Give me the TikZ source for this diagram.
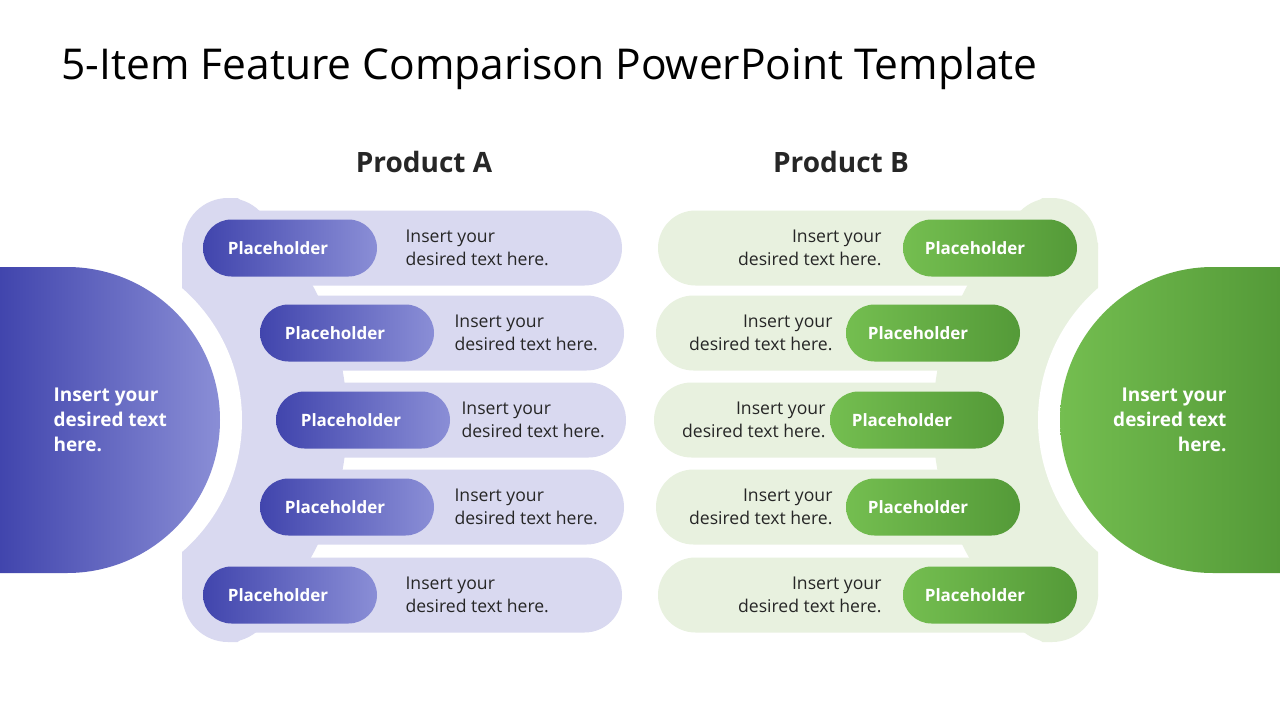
\documentclass[tikz,border=0pt]{standalone}
\usepackage{fontspec}
\setmainfont{Open Sans}
\usetikzlibrary{positioning}
\definecolor{lavA}{HTML}{D9D9F0}
\definecolor{lgrB}{HTML}{E8F1DF}
\definecolor{purD}{HTML}{4145AD}
\definecolor{purL}{HTML}{8A8ED6}
\definecolor{grnD}{HTML}{549A38}
\definecolor{grnL}{HTML}{74BE50}
\definecolor{txt}{HTML}{262626}
\tikzset{
  rowbg/.style={rounded corners=37.5pt},
  pillA/.style={rounded corners=28.5pt, shading=axis, shading angle=60, left color=purD, right color=purL},
  pillB/.style={rounded corners=28.5pt, shading=axis, shading angle=120, left color=grnL, right color=grnD},
  pilltext/.style={text=white, font=\fontsize{17}{20}\selectfont\bfseries},
  desc/.style={text=txt, align=left, font=\fontsize{17.6}{22.5}\selectfont},
  head/.style={text=txt, font=\fontsize{28}{32}\selectfont\bfseries},
  bigtext/.style={text=white, font=\fontsize{19}{25}\selectfont\bfseries}
}
\begin{document}
\begin{tikzpicture}[x=1pt,y=-1pt]
  \useasboundingbox (0,0) rectangle (1280,720);
  \fill[white] (0,0) rectangle (1280,720);
  % title and headings
  \node[anchor=west, text=black, font=\fontsize{42.5}{48}\selectfont] (title) at (58,68) {5-Item Feature Comparison PowerPoint Template};
  \node[head] (headA) at (424,162) {Product A};
  \node[head] (headB) at (841,162) {Product B};
  % left body
  \begin{scope}
    \clip (182,243) rectangle (640,597) (228,198) rectangle (640,642);
    \fill[lavA] (67,420) circle (280);
  \end{scope}
  \fill[lavA] (228,243) circle (45);
  \fill[lavA] (228,597) circle (45);
  % right body
  \begin{scope}
    \clip (640,243) rectangle (1098,597) (640,198) rectangle (1052,642);
    \fill[lgrB] (1213,420) circle (280);
  \end{scope}
  \fill[lgrB] (1052,243) circle (45);
  \fill[lgrB] (1052,597) circle (45);
  % rows
  \foreach \y/\xb in {248/622, 333/624, 420/626, 507/624, 595/622} {
    \fill[lavA, rowbg] (182,\y-37.5) rectangle (\xb,\y+37.5);
    \fill[lgrB, rowbg] (1280-\xb,\y-37.5) rectangle (1098,\y+37.5);
  }
  \fill[white] (67,420) circle (175);
  \fill[white] (1213,420) circle (175);
  % big half circles
  \shade[shading=axis, shading angle=45, left color=purD, right color=purL]
    (0,267) -- (67,267) arc[start angle=-90, end angle=90, radius=153] -- (0,573) -- cycle;
  \shade[shading=axis, shading angle=135, left color=grnL, right color=grnD]
    (1280,267) -- (1213,267) arc[start angle=-90, end angle=-270, radius=153] -- (1280,573) -- cycle;
  \node[bigtext, anchor=west, align=left] (bigA) at (50,420) {Insert your\\desired text\\here.};
  \node[bigtext, anchor=east, align=right] (bigB) at (1230,420) {Insert your\\desired text\\here.};
  % placeholders
  \foreach[count=\i] \y/\xp/\xt in {248/203/406, 333/260/455, 420/276/462, 507/260/455, 595/203/406} {
    \shade[pillA] (\xp,\y-28.5) rectangle (\xp+174,\y+28.5);
    \node[pilltext] (pa-\i) at (\xp+75,\y) {Placeholder};
    \node[desc, anchor=west] (da-\i) at (\xt-4,\y) {Insert your\\desired text here.};
    \shade[pillB] (1280-\xp-174,\y-28.5) rectangle (1280-\xp,\y+28.5);
    \node[pilltext] (pb-\i) at (1280-\xp-102,\y) {Placeholder};
    \node[desc, anchor=east, align=right] (db-\i) at (1280-\xt+11,\y) {Insert your\\desired text here.};
  }
\end{tikzpicture}
\end{document}
